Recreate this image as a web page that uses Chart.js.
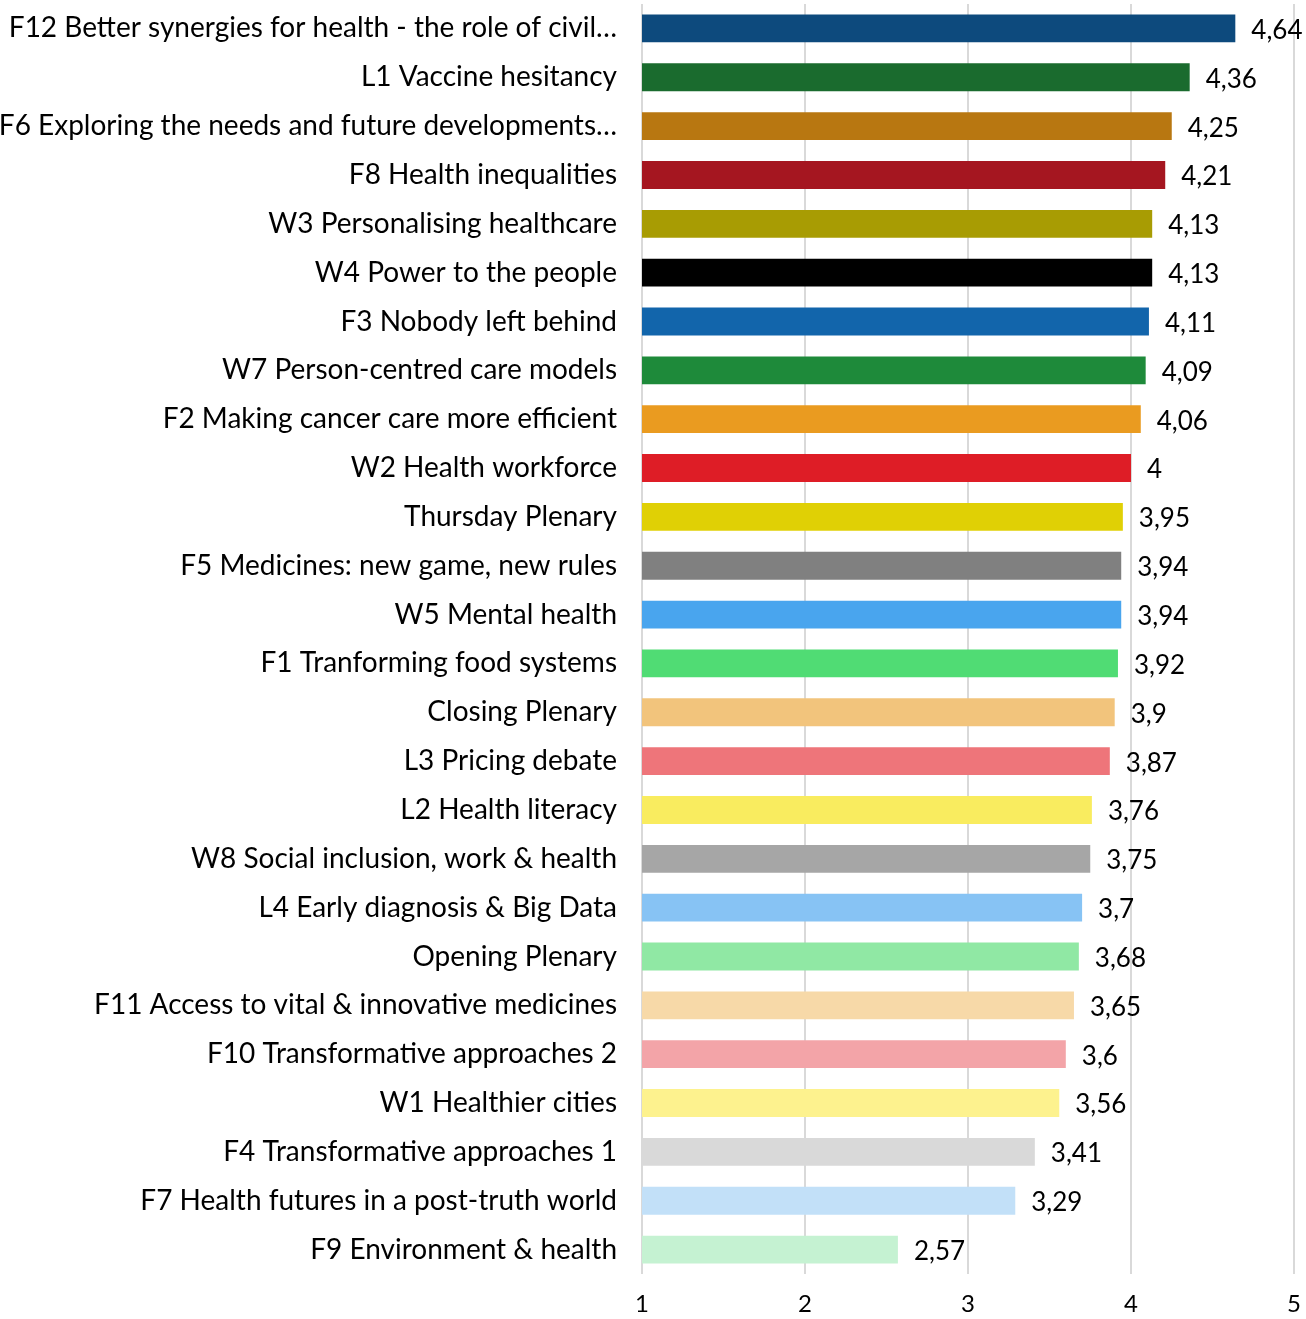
<!DOCTYPE html>
<html lang="en">
<head>
    <meta charset="UTF-8">
    <title>Session ratings</title>
    <script src="https://cdn.jsdelivr.net/npm/chart.js"></script>
    <style>
        body {
            margin: 0;
            background-color: white;
        }

        #chart-container {
            width: 1306px;
            height: 1319px;
        }
    </style>
</head>
<body>
    <div id="chart-container">
        <canvas id="ratings" width="1306" height="1319"></canvas>
    </div>

    <script>
        const sessions = [
            "F12 Better synergies for health - the role of civil…",
            "L1 Vaccine hesitancy",
            "F6 Exploring the needs and future developments…",
            "F8 Health inequalities",
            "W3 Personalising healthcare",
            "W4 Power to the people",
            "F3 Nobody left behind",
            "W7 Person-centred care models",
            "F2 Making cancer care more efficient",
            "W2 Health workforce",
            "Thursday Plenary",
            "F5 Medicines: new game, new rules",
            "W5 Mental health",
            "F1 Tranforming food systems",
            "Closing Plenary",
            "L3 Pricing debate",
            "L2 Health literacy",
            "W8 Social inclusion, work & health",
            "L4 Early diagnosis & Big Data",
            "Opening Plenary",
            "F11 Access to vital & innovative medicines",
            "F10 Transformative approaches 2",
            "W1 Healthier cities",
            "F4 Transformative approaches 1",
            "F7 Health futures in a post-truth world",
            "F9 Environment & health"
        ];

        const scores = [4.64, 4.36, 4.25, 4.21, 4.13, 4.13, 4.11, 4.09, 4.06, 4, 3.95, 3.94, 3.94,
                        3.92, 3.9, 3.87, 3.76, 3.75, 3.7, 3.68, 3.65, 3.6, 3.56, 3.41, 3.29, 2.57];

        const barColors = [
            "#0d4a7d", "#1a6b2e", "#b87711", "#a51620", "#a89c03", "#000000", "#1265ab",
            "#1e8a3a", "#ea9b20", "#de1d26", "#e0d005", "#808080", "#49a5ee", "#50dc74",
            "#f2c47c", "#ee757a", "#f9ec5f", "#a6a6a6", "#87c3f4", "#90e8a4", "#f7d9a8",
            "#f3a4a8", "#fdf28e", "#d9d9d9", "#c2e0f8", "#c5f2d2"
        ];

        const xTicks = [1, 2, 3, 4, 5];

        const FONT = "Lato";

        // write the score next to each bar, with a decimal comma
        const valueLabels = {
            id: "valueLabels",
            afterDatasetsDraw(chart) {
                const ctx = chart.ctx;
                const meta = chart.getDatasetMeta(0);
                ctx.save();
                ctx.font = "26px " + FONT;
                ctx.fillStyle = "#000";
                ctx.textAlign = "left";
                ctx.textBaseline = "middle";
                meta.data.forEach((bar, i) => {
                    const txt = String(scores[i]).replace(".", ",");
                    ctx.fillText(txt, bar.x + 16, bar.y + 2);
                });
                ctx.restore();
            }
        };

        const ctx = document.getElementById("ratings").getContext("2d");
        new Chart(ctx, {
            type: "bar",
            data: {
                labels: sessions,
                datasets: [{
                    data: scores,
                    backgroundColor: barColors,
                    borderWidth: 0,
                    barPercentage: 0.57,
                    categoryPercentage: 1
                }]
            },
            options: {
                indexAxis: "y",
                responsive: false,
                animation: false,
                layout: {
                    padding: { top: 4, right: 12, left: 0, bottom: 0 }
                },
                plugins: {
                    legend: { display: false },
                    tooltip: { enabled: false }
                },
                scales: {
                    x: {
                        min: 1,
                        max: 5,
                        afterBuildTicks: (axis) => {
                            axis.ticks = xTicks.map(v => ({ value: v }));
                        },
                        afterFit: (axis) => {
                            axis.height = 45;
                            axis.paddingLeft = 0;
                            axis.paddingRight = 0;
                        },
                        grid: {
                            color: "#d9d9d9",
                            lineWidth: 2,
                            drawTicks: false
                        },
                        border: { display: false },
                        ticks: {
                            color: "#000",
                            padding: 16,
                            font: { family: FONT, size: 24 }
                        }
                    },
                    y: {
                        afterFit: (axis) => {
                            axis.width = 642;
                            axis.paddingTop = 0;
                            axis.paddingBottom = 0;
                        },
                        grid: { display: false, drawTicks: false },
                        border: { display: false },
                        ticks: {
                            color: "#000",
                            padding: 25,
                            autoSkip: false,
                            font: { family: FONT, size: 28 }
                        }
                    }
                }
            },
            plugins: [valueLabels]
        });
    </script>
</body>
</html>
